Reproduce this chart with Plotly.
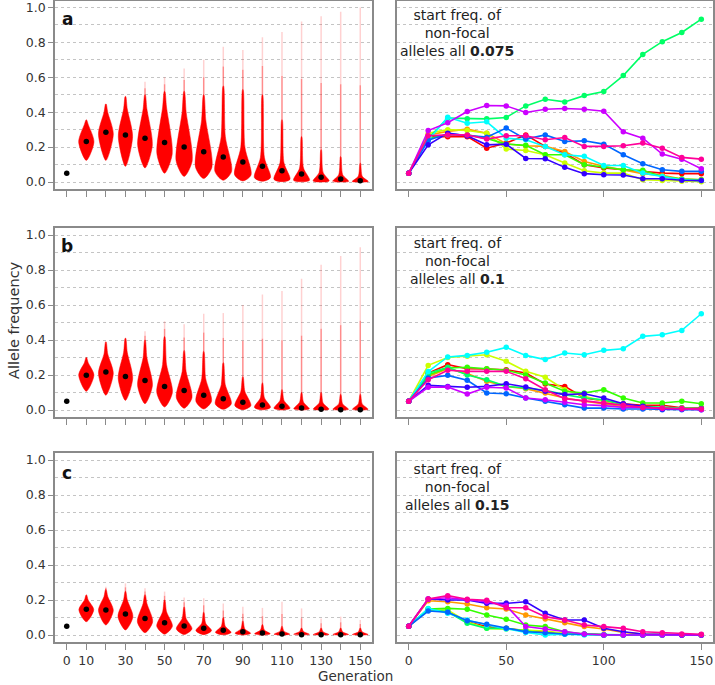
import plotly.graph_objects as go

# ---------------- data ----------------
GENS_V = [10, 20, 30, 40, 50, 60, 70, 80, 90, 100, 110, 120, 130, 140, 150]
GENS_L = [0, 10, 20, 30, 40, 50, 60, 70, 80, 90, 100, 110, 120, 130, 140, 150]
START_FREQ = 0.05
LEFT_TICKS = [0, 10, 20, 30, 40, 50, 60, 70, 80, 90, 100, 110, 120, 130, 140, 150]
LEFT_TICKTEXT = ["0", "10", "", "30", "", "50", "", "70", "", "90", "", "110", "", "130", "", "150"]
RIGHT_TICKS = [0, 50, 100, 150]
Y_TICKS = [0.0, 0.2, 0.4, 0.6, 0.8, 1.0]
Y_TICKTEXT = ["0.0", "0.2", "0.4", "0.6", "0.8", "1.0"]
PANEL_LABELS = ["a", "b", "c"]
START_LABELS = ["0.075", "0.1", "0.15"]

# violin summaries (panel a)
A_MED = [0.232, 0.285, 0.27, 0.251, 0.226, 0.20, 0.173, 0.143, 0.114, 0.09, 0.065, 0.046, 0.028, 0.017, 0.007]
A_LO = [0.124, 0.124, 0.09, 0.08, 0.05, 0.032, 0.02, 0.01, 0.006, 0.004, 0.002, 0.001, 0.0, 0.0, 0.0]
A_WIDE = [0.23, 0.275, 0.26, 0.21, 0.16, 0.12, 0.085, 0.06, 0.04, 0.025, 0.015, 0.01, 0.006, 0.004, 0.003]
A_HW = [3.9, 3.8, 3.65, 3.75, 3.9, 4.1, 4.2, 4.25, 4.2, 4.1, 4.1, 4.1, 4.1, 4.1, 4.1]
A_NECK = [0.33, 0.40, 0.42, 0.42, 0.43, 0.40, 0.356, 0.26, 0.20, 0.14, 0.11, 0.08, 0.055, 0.042, 0.033]
A_TOP = [0.356, 0.447, 0.49, 0.50, 0.52, 0.52, 0.50, 0.55, 0.53, 0.50, 0.356, 0.26, 0.185, 0.146, 0.108]
A_TIP = [0.356, 0.447, 0.49, 0.575, 0.60, 0.65, 0.70, 0.775, 0.756, 0.83, 0.86, 0.92, 0.95, 0.975, 1.0]

# panel b
B_MED = [0.198, 0.217, 0.192, 0.168, 0.135, 0.112, 0.084, 0.065, 0.044, 0.029, 0.021, 0.011, 0.004, 0.002, 0.002]
B_LO = [0.107, 0.084, 0.055, 0.036, 0.017, 0.01, 0.006, 0.004, 0.002, 0.001, 0.0, 0.0, 0.0, 0.0, 0.0]
B_WIDE = [0.20, 0.21, 0.18, 0.14, 0.10, 0.07, 0.05, 0.035, 0.025, 0.015, 0.01, 0.007, 0.005, 0.004, 0.004]
B_HW = [3.9, 3.8, 3.7, 3.8, 4.0, 4.0, 4.0, 4.1, 4.1, 4.1, 4.1, 4.0, 4.0, 4.0, 4.0]
B_NECK = [0.27, 0.32, 0.33, 0.30, 0.26, 0.22, 0.18, 0.145, 0.107, 0.07, 0.055, 0.045, 0.04, 0.035, 0.035]
B_TOP = [0.30, 0.389, 0.41, 0.40, 0.42, 0.34, 0.335, 0.27, 0.19, 0.155, 0.116, 0.10, 0.10, 0.09, 0.09]
B_TIP = [0.30, 0.389, 0.41, 0.45, 0.507, 0.49, 0.55, 0.554, 0.60, 0.66, 0.68, 0.75, 0.83, 0.88, 0.93]

# panel c
C_MED = [0.147, 0.143, 0.12, 0.095, 0.07, 0.051, 0.038, 0.027, 0.019, 0.011, 0.006, 0.002, 0.001, 0.001, 0.001]
C_LO = [0.076, 0.057, 0.029, 0.013, 0.005, 0.003, 0.002, 0.001, 0.0, 0.0, 0.0, 0.0, 0.0, 0.0, 0.0]
C_WIDE = [0.145, 0.14, 0.105, 0.075, 0.05, 0.035, 0.025, 0.015, 0.01, 0.007, 0.005, 0.004, 0.003, 0.003, 0.003]
C_HW = [3.8, 3.8, 3.8, 3.9, 4.0, 4.0, 4.0, 4.0, 4.0, 4.0, 4.0, 4.0, 4.0, 4.0, 4.0]
C_NECK = [0.20, 0.22, 0.20, 0.18, 0.133, 0.095, 0.067, 0.05, 0.035, 0.028, 0.022, 0.02, 0.018, 0.018, 0.018]
C_TOP = [0.229, 0.26, 0.25, 0.23, 0.20, 0.16, 0.13, 0.10, 0.08, 0.06, 0.05, 0.04, 0.04, 0.04, 0.04]
C_TIP = [0.229, 0.276, 0.295, 0.267, 0.248, 0.215, 0.21, 0.18, 0.162, 0.155, 0.19, 0.152, 0.095, 0.105, 0.086]

# replicate trajectories, panel a (start 0.075)
A_RED = [0.05, 0.26, 0.26, 0.26, 0.194, 0.223, 0.27, 0.204, 0.166, 0.099, 0.08, 0.07, 0.061, 0.051, 0.048, 0.048]
A_ORANGE = [0.05, 0.27, 0.29, 0.303, 0.28, 0.219, 0.208, 0.204, 0.175, 0.118, 0.09, 0.07, 0.048, 0.038, 0.017, 0.013]
A_YELLOW = [0.05, 0.28, 0.30, 0.295, 0.28, 0.189, 0.181, 0.156, 0.109, 0.065, 0.051, 0.051, 0.013, 0.008, 0.004, 0.002]
A_GREEN = [0.05, 0.25, 0.27, 0.27, 0.25, 0.217, 0.21, 0.156, 0.156, 0.099, 0.086, 0.07, 0.067, 0.032, 0.017, 0.013]
A_SPRING = [0.05, 0.25, 0.366, 0.362, 0.362, 0.37, 0.436, 0.474, 0.459, 0.495, 0.518, 0.61, 0.731, 0.804, 0.857, 0.933]
A_CYAN = [0.05, 0.24, 0.371, 0.337, 0.345, 0.251, 0.242, 0.204, 0.156, 0.147, 0.095, 0.095, 0.051, 0.032, 0.013, 0.008]
A_BLUE = [0.05, 0.24, 0.276, 0.265, 0.257, 0.309, 0.246, 0.27, 0.232, 0.236, 0.217, 0.156, 0.105, 0.07, 0.061, 0.061]
A_INDIGO = [0.05, 0.213, 0.28, 0.265, 0.213, 0.217, 0.135, 0.133, 0.084, 0.048, 0.042, 0.04, 0.019, 0.019, 0.01, 0.008]
A_PURPLE = [0.05, 0.295, 0.34, 0.404, 0.438, 0.436, 0.398, 0.417, 0.421, 0.417, 0.406, 0.288, 0.251, 0.16, 0.131, 0.076]
A_PINK = [0.05, 0.265, 0.27, 0.27, 0.246, 0.265, 0.265, 0.242, 0.255, 0.204, 0.204, 0.208, 0.223, 0.194, 0.141, 0.131]

# panel b (start 0.1)
B_RED = [0.05, 0.211, 0.259, 0.236, 0.234, 0.23, 0.211, 0.149, 0.135, 0.069, 0.053, 0.036, 0.027, 0.027, 0.013, 0.011]
B_ORANGE = [0.05, 0.192, 0.236, 0.208, 0.164, 0.135, 0.122, 0.097, 0.069, 0.05, 0.036, 0.021, 0.015, 0.011, 0.006, 0.006]
B_YELLOW = [0.05, 0.255, 0.30, 0.307, 0.316, 0.278, 0.221, 0.187, 0.116, 0.078, 0.05, 0.021, 0.015, 0.011, 0.008, 0.006]
B_GREEN = [0.05, 0.20, 0.24, 0.244, 0.236, 0.227, 0.20, 0.154, 0.107, 0.097, 0.116, 0.069, 0.04, 0.04, 0.05, 0.036]
B_SPRING = [0.05, 0.21, 0.244, 0.20, 0.173, 0.135, 0.126, 0.112, 0.088, 0.069, 0.059, 0.03, 0.021, 0.015, 0.011, 0.008]
B_CYAN = [0.05, 0.22, 0.303, 0.312, 0.33, 0.358, 0.312, 0.288, 0.326, 0.316, 0.341, 0.35, 0.421, 0.43, 0.455, 0.55]
B_BLUE = [0.05, 0.183, 0.198, 0.17, 0.097, 0.093, 0.069, 0.05, 0.03, 0.011, 0.011, 0.006, 0.006, 0.002, 0.002, 0.002]
B_INDIGO = [0.05, 0.141, 0.135, 0.13, 0.135, 0.15, 0.131, 0.107, 0.088, 0.093, 0.069, 0.036, 0.021, 0.006, 0.006, 0.006]
B_PURPLE = [0.05, 0.13, 0.131, 0.091, 0.13, 0.126, 0.069, 0.059, 0.044, 0.03, 0.025, 0.015, 0.015, 0.008, 0.006, 0.002]
B_PINK = [0.05, 0.173, 0.227, 0.221, 0.221, 0.221, 0.179, 0.116, 0.065, 0.053, 0.04, 0.027, 0.015, 0.011, 0.008, 0.006]

# panel c (start 0.15)
C_RED = [0.05, 0.143, 0.133, 0.076, 0.048, 0.038, 0.029, 0.015, 0.01, 0.005, 0.002, 0.001, 0.0, 0.0, 0.0, 0.0]
C_ORANGE = [0.05, 0.196, 0.19, 0.177, 0.156, 0.149, 0.114, 0.091, 0.07, 0.048, 0.034, 0.015, 0.006, 0.004, 0.0, 0.0]
C_YELLOW = [0.05, 0.143, 0.143, 0.076, 0.038, 0.034, 0.029, 0.023, 0.01, 0.004, 0.0, 0.0, 0.0, 0.0, 0.0, 0.0]
C_GREEN = [0.05, 0.149, 0.152, 0.147, 0.114, 0.09, 0.057, 0.048, 0.019, 0.006, 0.0, 0.0, 0.0, 0.0, 0.0, 0.0]
C_SPRING = [0.05, 0.147, 0.133, 0.067, 0.038, 0.038, 0.023, 0.01, 0.006, 0.004, 0.0, 0.0, 0.0, 0.0, 0.0, 0.0]
C_CYAN = [0.05, 0.152, 0.124, 0.086, 0.057, 0.034, 0.015, 0.0, 0.004, 0.0, 0.0, 0.0, 0.0, 0.0, 0.0, 0.0]
C_BLUE = [0.05, 0.137, 0.13, 0.082, 0.061, 0.038, 0.019, 0.013, 0.006, 0.004, 0.0, 0.0, 0.0, 0.0, 0.0, 0.0]
C_INDIGO = [0.05, 0.206, 0.20, 0.20, 0.181, 0.181, 0.19, 0.124, 0.086, 0.086, 0.038, 0.019, 0.006, 0.004, 0.0, 0.0]
C_PURPLE = [0.05, 0.206, 0.213, 0.20, 0.19, 0.168, 0.048, 0.034, 0.019, 0.006, 0.0, 0.0, 0.0, 0.0, 0.0, 0.0]
C_PINK = [0.05, 0.206, 0.225, 0.204, 0.198, 0.156, 0.156, 0.105, 0.086, 0.057, 0.048, 0.038, 0.019, 0.013, 0.006, 0.004]

LINE_COLORS = ["#FF0000", "#FF9900", "#CCFF00", "#33FF00", "#00FF66",
               "#00FFFF", "#0066FF", "#3300FF", "#CC00FF", "#FF0099"]

VIOLINS = [
    (A_MED, A_LO, A_WIDE, A_HW, A_NECK, A_TOP, A_TIP),
    (B_MED, B_LO, B_WIDE, B_HW, B_NECK, B_TOP, B_TIP),
    (C_MED, C_LO, C_WIDE, C_HW, C_NECK, C_TOP, C_TIP),
]
LINES = [
    [A_RED, A_ORANGE, A_YELLOW, A_GREEN, A_SPRING, A_CYAN, A_BLUE, A_INDIGO, A_PURPLE, A_PINK],
    [B_RED, B_ORANGE, B_YELLOW, B_GREEN, B_SPRING, B_CYAN, B_BLUE, B_INDIGO, B_PURPLE, B_PINK],
    [C_RED, C_ORANGE, C_YELLOW, C_GREEN, C_SPRING, C_CYAN, C_BLUE, C_INDIGO, C_PURPLE, C_PINK],
]

# ---------------- figure ----------------
W, H = 715, 685
FONT = "DejaVu Sans"
BOX = "#8a8a8a"
GRID = "#c4c4c4"
NECK_FRAC = 0.25
TAIL_HW = 0.15

LEFT_DOM = [55 / W, 372 / W]
RIGHT_DOM = [397 / W, 713 / W]
ROW_PX = [(0.5, 189), (228, 417), (453, 642)]

fig = go.Figure()

for r in range(3):
    xl, yl = f"x{2*r+1}", f"y{2*r+1}"
    xr, yr = f"x{2*r+2}", f"y{2*r+2}"
    med, lo, wide, hw, neck, top, tip = VIOLINS[r]
    tails_dark_x, tails_dark_y, tails_light_x, tails_light_y = [], [], [], []
    for i, g in enumerate(GENS_V):
        xs = [g, g + hw[i], g + NECK_FRAC * hw[i], g + TAIL_HW, g - TAIL_HW,
              g - NECK_FRAC * hw[i], g - hw[i], g]
        ys = [lo[i], wide[i], neck[i], top[i], top[i], neck[i], wide[i], lo[i]]
        fig.add_trace(go.Scatter(x=xs, y=ys, xaxis=xl, yaxis=yl, mode="lines",
                                 fill="toself", fillcolor="#FF0000",
                                 line=dict(color="#FF0000", width=0.5, shape="spline", smoothing=0.8),
                                 hoverinfo="skip", showlegend=False))
        if tip[i] > top[i] + 0.005:
            mid = (top[i] + tip[i]) / 2
            tails_dark_x += [g, g, None]
            tails_dark_y += [top[i], mid, None]
            tails_light_x += [g, g, None]
            tails_light_y += [mid, tip[i], None]
    fig.add_trace(go.Scatter(x=tails_dark_x, y=tails_dark_y, xaxis=xl, yaxis=yl, mode="lines",
                             line=dict(color="rgba(255,0,0,0.45)", width=1.5),
                             hoverinfo="skip", showlegend=False))
    fig.add_trace(go.Scatter(x=tails_light_x, y=tails_light_y, xaxis=xl, yaxis=yl, mode="lines",
                             line=dict(color="rgba(255,0,0,0.18)", width=1.5),
                             hoverinfo="skip", showlegend=False))
    fig.add_trace(go.Scatter(x=[0] + GENS_V, y=[START_FREQ] + med, xaxis=xl, yaxis=yl,
                             mode="markers", marker=dict(color="black", size=5.5),
                             showlegend=False))
    for k, series in enumerate(LINES[r]):
        fig.add_trace(go.Scatter(x=GENS_L, y=series, xaxis=xr, yaxis=yr, mode="lines+markers",
                                 line=dict(color=LINE_COLORS[k], width=1.6),
                                 marker=dict(color=LINE_COLORS[k], size=5.5),
                                 showlegend=False))

layout = dict(width=W, height=H, margin=dict(l=0, r=0, t=0, b=0),
              paper_bgcolor="white", plot_bgcolor="white",
              font=dict(family=FONT, size=12, color="#333333"))

common_x = dict(range=[-6, 156], showline=True, mirror=True, linecolor=BOX, linewidth=1.6,
                ticks="outside", ticklen=6, tickcolor=BOX, tickwidth=1, showgrid=False,
                zeroline=False, ticklabeloverflow="allow",
                tickfont=dict(family=FONT, size=12.5, color="#333333"))
common_y = dict(range=[-0.04, 1.04], showline=True, mirror=True, linecolor=BOX, linewidth=1.6,
                zeroline=False, showgrid=True, gridcolor=GRID, griddash="dot", gridwidth=1,
                tickvals=Y_TICKS, ticklabeloverflow="allow",
                minor=dict(dtick=0.1, tick0=0, showgrid=True, gridcolor=GRID, griddash="dot",
                           gridwidth=1, ticks=""),
                tickfont=dict(family=FONT, size=12.5, color="#333333"))

for r in range(3):
    top_px, bot_px = ROW_PX[r]
    ydom = [1 - bot_px / H, 1 - top_px / H]
    il, ir = 2 * r + 1, 2 * r + 2
    bottom = (r == 2)
    layout[f"xaxis{il}"] = dict(common_x, domain=LEFT_DOM, anchor=f"y{il}",
                                tickvals=LEFT_TICKS,
                                ticktext=LEFT_TICKTEXT if bottom else [""] * len(LEFT_TICKS))
    layout[f"xaxis{ir}"] = dict(common_x, domain=RIGHT_DOM, anchor=f"y{ir}",
                                tickvals=RIGHT_TICKS,
                                ticktext=[str(v) for v in RIGHT_TICKS] if bottom else [""] * 4)
    layout[f"yaxis{il}"] = dict(common_y, domain=ydom, anchor=f"x{il}",
                                ticks="outside", ticklen=5, tickcolor=BOX, ticktext=Y_TICKTEXT)
    layout[f"yaxis{ir}"] = dict(common_y, domain=ydom, anchor=f"x{ir}",
                                ticks="", showticklabels=False)

annotations = []
LABEL_Y = [19, 246, 473]
TEXT_Y = [33, 261, 487]
for r in range(3):
    annotations.append(dict(text=f"<b>{PANEL_LABELS[r]}</b>", x=67 / W, y=1 - LABEL_Y[r] / H,
                            xref="paper", yref="paper", showarrow=False,
                            xanchor="center", yanchor="middle",
                            font=dict(family=FONT, size=17, color="#111111")))
    annotations.append(dict(text=f"start freq. of<br>non-focal<br>alleles all <b>{START_LABELS[r]}</b>",
                            x=457 / W, y=1 - TEXT_Y[r] / H, xref="paper", yref="paper",
                            showarrow=False, xanchor="center", yanchor="middle", align="center",
                            font=dict(family=FONT, size=14, color="#222222")))
annotations.append(dict(text="Allele frequency", x=14 / W, y=1 - 320 / H, xref="paper", yref="paper",
                        showarrow=False, textangle=-90, xanchor="center", yanchor="middle",
                        font=dict(family=FONT, size=14.5, color="#333333")))
annotations.append(dict(text="Generation", x=355 / W, y=1 - 676 / H, xref="paper", yref="paper",
                        showarrow=False, xanchor="center", yanchor="middle",
                        font=dict(family=FONT, size=13.5, color="#333333")))
layout["annotations"] = annotations

fig.update_layout(**layout)
fig.write_html("out.html", config={"displayModeBar": False},
               post_script="document.body.style.margin='0';document.body.style.overflow='hidden';")
